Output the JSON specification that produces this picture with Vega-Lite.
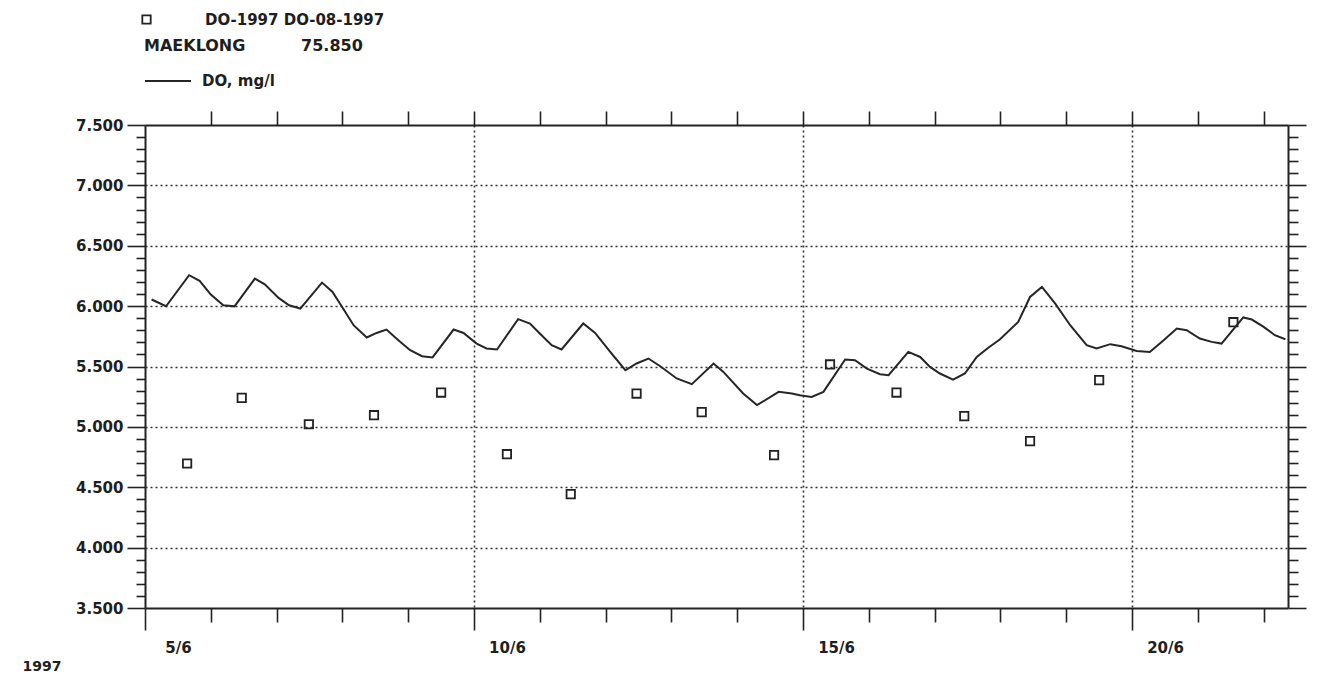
{
  "$schema": "https://vega.github.io/schema/vega-lite/v6.json",
  "width": 1143,
  "height": 483,
  "autosize": {"type": "none"},
  "padding": {"left": 145, "top": 125, "right": 29, "bottom": 68},
  "background": "white",
  "config": {
    "view": {"stroke": null},
    "axis": {
      "domainColor": "#222", "domainWidth": 2,
      "tickColor": "#222", "tickWidth": 1.6,
      "labelFont": "DejaVu Sans", "labelFontSize": 15, "labelFontWeight": "bold", "labelColor": "#1e1e1e",
      "gridColor": "#333", "gridDash": [2, 3], "gridWidth": 1.6,
      "labelOverlap": false, "labelBound": false, "labelFlush": false
    },
    "legend": {
      "labelFont": "DejaVu Sans", "labelFontWeight": "bold", "labelColor": "#1e1e1e",
      "titleFont": "DejaVu Sans", "titleFontWeight": "bold", "titleColor": "#1e1e1e",
      "padding": 0, "labelLimit": 400, "titleLimit": 500
    }
  },
  "datasets": {
    "line": [
      {"day": 5.10, "do": 6.055}, {"day": 5.32, "do": 5.999}, {"day": 5.67, "do": 6.256}, {"day": 5.83, "do": 6.209},
      {"day": 6.00, "do": 6.096}, {"day": 6.19, "do": 6.007}, {"day": 6.36, "do": 5.998}, {"day": 6.67, "do": 6.228},
      {"day": 6.82, "do": 6.181}, {"day": 7.03, "do": 6.068}, {"day": 7.19, "do": 6.007}, {"day": 7.36, "do": 5.980},
      {"day": 7.69, "do": 6.195}, {"day": 7.85, "do": 6.118}, {"day": 8.01, "do": 5.980}, {"day": 8.17, "do": 5.842},
      {"day": 8.37, "do": 5.740}, {"day": 8.52, "do": 5.778}, {"day": 8.67, "do": 5.806}, {"day": 8.85, "do": 5.718},
      {"day": 9.03, "do": 5.635}, {"day": 9.21, "do": 5.585}, {"day": 9.37, "do": 5.575}, {"day": 9.69, "do": 5.806},
      {"day": 9.84, "do": 5.778}, {"day": 10.04, "do": 5.690}, {"day": 10.19, "do": 5.649}, {"day": 10.35, "do": 5.641},
      {"day": 10.67, "do": 5.892}, {"day": 10.85, "do": 5.856}, {"day": 11.00, "do": 5.773}, {"day": 11.18, "do": 5.676},
      {"day": 11.33, "do": 5.641}, {"day": 11.66, "do": 5.856}, {"day": 11.84, "do": 5.778}, {"day": 12.07, "do": 5.621},
      {"day": 12.30, "do": 5.469}, {"day": 12.47, "do": 5.525}, {"day": 12.65, "do": 5.566}, {"day": 12.83, "do": 5.502},
      {"day": 13.08, "do": 5.401}, {"day": 13.31, "do": 5.354}, {"day": 13.64, "do": 5.525}, {"day": 13.79, "do": 5.455},
      {"day": 14.09, "do": 5.276}, {"day": 14.30, "do": 5.180}, {"day": 14.63, "do": 5.290}, {"day": 14.83, "do": 5.276},
      {"day": 14.95, "do": 5.262}, {"day": 15.13, "do": 5.248}, {"day": 15.31, "do": 5.290}, {"day": 15.64, "do": 5.558},
      {"day": 15.79, "do": 5.552}, {"day": 15.97, "do": 5.483}, {"day": 16.17, "do": 5.436}, {"day": 16.30, "do": 5.428},
      {"day": 16.60, "do": 5.621}, {"day": 16.78, "do": 5.579}, {"day": 16.93, "do": 5.497}, {"day": 17.08, "do": 5.442},
      {"day": 17.28, "do": 5.392}, {"day": 17.46, "do": 5.442}, {"day": 17.64, "do": 5.579}, {"day": 17.82, "do": 5.657},
      {"day": 17.99, "do": 5.724}, {"day": 18.27, "do": 5.869}, {"day": 18.45, "do": 6.076}, {"day": 18.63, "do": 6.159},
      {"day": 18.83, "do": 6.022}, {"day": 19.06, "do": 5.842}, {"day": 19.31, "do": 5.676}, {"day": 19.46, "do": 5.649},
      {"day": 19.67, "do": 5.685}, {"day": 19.84, "do": 5.668}, {"day": 20.07, "do": 5.629}, {"day": 20.27, "do": 5.621},
      {"day": 20.48, "do": 5.718}, {"day": 20.68, "do": 5.815}, {"day": 20.83, "do": 5.801}, {"day": 21.03, "do": 5.732},
      {"day": 21.21, "do": 5.704}, {"day": 21.36, "do": 5.690}, {"day": 21.69, "do": 5.906}, {"day": 21.82, "do": 5.889},
      {"day": 22.00, "do": 5.828}, {"day": 22.17, "do": 5.759}, {"day": 22.33, "do": 5.726}
    ],
    "pts": [
      {"day": 5.64, "do": 4.697}, {"day": 6.47, "do": 5.240}, {"day": 7.49, "do": 5.022}, {"day": 8.48, "do": 5.097},
      {"day": 9.50, "do": 5.284}, {"day": 10.50, "do": 4.774}, {"day": 11.47, "do": 4.443}, {"day": 12.47, "do": 5.276},
      {"day": 13.46, "do": 5.122}, {"day": 14.56, "do": 4.766}, {"day": 15.41, "do": 5.517}, {"day": 16.42, "do": 5.284},
      {"day": 17.45, "do": 5.089}, {"day": 18.45, "do": 4.882}, {"day": 19.50, "do": 5.387}, {"day": 21.54, "do": 5.867}
    ]
  },
  "layer": [
    {
      "data": {"name": "line"},
      "mark": {"type": "line", "strokeWidth": 2},
      "encoding": {
        "x": {
          "field": "day", "type": "quantitative",
          "scale": {"domain": [5, 22.37], "nice": false, "zero": false},
          "axis": {
            "orient": "bottom",
            "values": [5, 6, 7, 8, 9, 10, 11, 12, 13, 14, 15, 16, 17, 18, 19, 20, 21, 22],
            "title": "1997",
            "titleX": -123, "titleY": 58, "titleAlign": "left", "titleBaseline": "middle", "titleAnchor": "start",
            "titleFont": "DejaVu Sans", "titleFontSize": 14, "titleFontWeight": "bold", "titleColor": "#1e1e1e",
            "tickSize": {"condition": {"test": "datum.value % 5 === 0", "value": 22}, "value": 14},
            "labelExpr": "datum.value % 5 === 0 ? datum.value + '/6' : ''",
            "labelOffset": 33,
            "labelPadding": 10,
            "grid": true,
            "gridOpacity": {"condition": {"test": "datum.value % 5 === 0 && datum.value > 5", "value": 1}, "value": 0}
          }
        },
        "y": {
          "field": "do", "type": "quantitative",
          "scale": {"domain": [3.5, 7.5], "nice": false, "zero": false},
          "axis": {
            "orient": "left",
            "values": [3.5, 3.6, 3.7, 3.8, 3.9, 4.0, 4.1, 4.2, 4.3, 4.4, 4.5, 4.6, 4.7, 4.8, 4.9, 5.0, 5.1, 5.2, 5.3, 5.4, 5.5, 5.6, 5.7, 5.8, 5.9, 6.0, 6.1, 6.2, 6.3, 6.4, 6.5, 6.6, 6.7, 6.8, 6.9, 7.0, 7.1, 7.2, 7.3, 7.4, 7.5],
            "title": null,
            "tickSize": {"condition": {"test": "abs(datum.value * 2 - round(datum.value * 2)) < 0.01", "value": 18}, "value": 9},
            "labelExpr": "abs(datum.value * 2 - round(datum.value * 2)) < 0.01 ? format(datum.value, '.3f') : ''",
            "labelPadding": 4,
            "grid": true,
            "gridOpacity": {"condition": {"test": "abs(datum.value * 2 - round(datum.value * 2)) < 0.01 && datum.value > 3.6 && datum.value < 7.4", "value": 1}, "value": 0}
          }
        },
        "color": {
          "datum": "DO, mg/l",
          "scale": {"range": ["#262626"]},
          "legend": {
            "orient": "none", "legendX": -1, "legendY": -87,
            "title": "MAEKLONG\u00a0\u00a0\u00a0\u00a0\u00a0\u00a0\u00a0\u00a0\u00a0\u00a075.850",
            "titleFontSize": 16, "titlePadding": 3,
            "symbolType": "stroke", "symbolSize": 2116, "symbolStrokeWidth": 2,
            "labelFontSize": 15, "labelOffset": 10
          }
        }
      }
    },
    {
      "data": {"name": "pts"},
      "mark": {"type": "point", "shape": "square", "filled": false, "size": 70, "strokeWidth": 1.8, "color": "#222", "opacity": 1},
      "encoding": {
        "x": {
          "field": "day", "type": "quantitative",
          "scale": {"domain": [5, 22.37], "nice": false, "zero": false},
          "axis": {
            "orient": "top",
            "values": [6, 7, 8, 9, 10, 11, 12, 13, 14, 15, 16, 17, 18, 19, 20, 21, 22],
            "title": null, "labels": false, "grid": false, "tickSize": 14
          }
        },
        "y": {
          "field": "do", "type": "quantitative",
          "scale": {"domain": [3.5, 7.5], "nice": false, "zero": false},
          "axis": {
            "orient": "right",
            "values": [3.5, 3.6, 3.7, 3.8, 3.9, 4.0, 4.1, 4.2, 4.3, 4.4, 4.5, 4.6, 4.7, 4.8, 4.9, 5.0, 5.1, 5.2, 5.3, 5.4, 5.5, 5.6, 5.7, 5.8, 5.9, 6.0, 6.1, 6.2, 6.3, 6.4, 6.5, 6.6, 6.7, 6.8, 6.9, 7.0, 7.1, 7.2, 7.3, 7.4, 7.5],
            "title": null, "labels": false, "grid": false,
            "tickSize": {"condition": {"test": "abs(datum.value * 2 - round(datum.value * 2)) < 0.01", "value": 18}, "value": 10}
          }
        },
        "shape": {
          "datum": "DO-1997 DO-08-1997",
          "scale": {"range": ["square"]},
          "legend": {
            "orient": "none", "legendX": -6, "legendY": -113,
            "title": null,
            "symbolSize": 70, "symbolStrokeWidth": 1.8, "symbolStrokeColor": "#222", "symbolFillColor": "white",
            "labelFontSize": 15, "labelOffset": 51
          }
        }
      }
    }
  ],
  "resolve": {"axis": {"x": "independent", "y": "independent"}}
}
